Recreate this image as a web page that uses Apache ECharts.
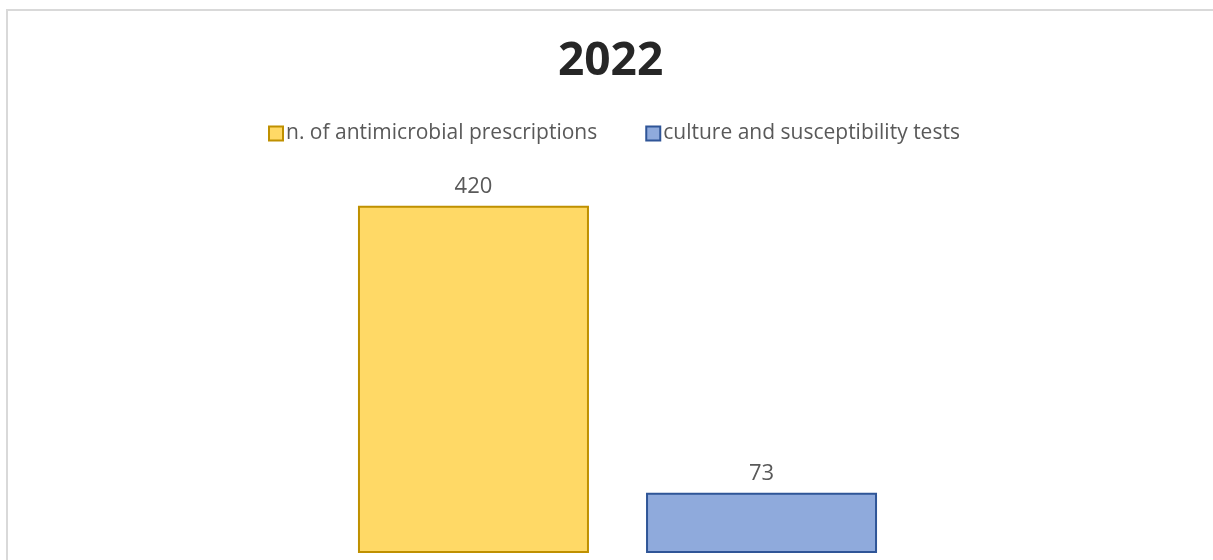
<!DOCTYPE html>
<html>
<head>
<meta charset="utf-8">
<script src="https://cdn.jsdelivr.net/npm/echarts@6/dist/echarts.min.js"></script>
<style>
html,body{margin:0;padding:0;background:#fff;}
#c{width:1213px;height:560px;}
</style>
</head>
<body>
<div id="c"></div>
<script>
const titleText = '2022';
const categories = ['2022'];
const seriesNames = ['n. of antimicrobial prescriptions', 'culture and susceptibility tests'];
const prescriptions = [420];
const cultureTests = [73];

const chart = echarts.init(document.getElementById('c'), null, {renderer: 'canvas'});
const font = '"Open Sans", sans-serif';
chart.setOption({
  animation: false,
  backgroundColor: '#ffffff',
  graphic: [{
    type: 'rect', silent: true, z: -1,
    shape: {x: 7, y: 10, width: 1230, height: 600},
    style: {fill: 'none', stroke: '#d9d9d9', lineWidth: 2}
  }],
  title: {
    text: titleText, left: 553, top: 34,
    textStyle: {fontFamily: font, fontSize: 46, fontWeight: 'bold', color: '#262626'}
  },
  legend: {
    top: 118, left: 263,
    itemWidth: 14, itemHeight: 14, itemGap: 48,
    icon: 'rect',
    textStyle: {fontFamily: font, fontSize: 21, color: '#595959', padding: [0,0,0,-2]},
    data: seriesNames
  },
  grid: {left: 100, right: 78, top: 181, bottom: 7},
  xAxis: {type: 'category', data: categories, show: false},
  yAxis: {type: 'value', min: 0, max: 450, show: false},
  series: [{
    name: seriesNames[0], type: 'bar', data: prescriptions,
    barWidth: 231, barGap: '24.7%',
    itemStyle: {color: '#FFD966', borderColor: '#BF9000', borderWidth: 2},
    label: {show: true, position: 'top', distance: 8, fontFamily: font, fontSize: 22, color: '#595959'}
  }, {
    name: seriesNames[1], type: 'bar', data: cultureTests,
    barWidth: 231,
    itemStyle: {color: '#8FAADC', borderColor: '#2F5597', borderWidth: 2},
    label: {show: true, position: 'top', distance: 8, fontFamily: font, fontSize: 22, color: '#595959'}
  }]
});
</script>
</body>
</html>
